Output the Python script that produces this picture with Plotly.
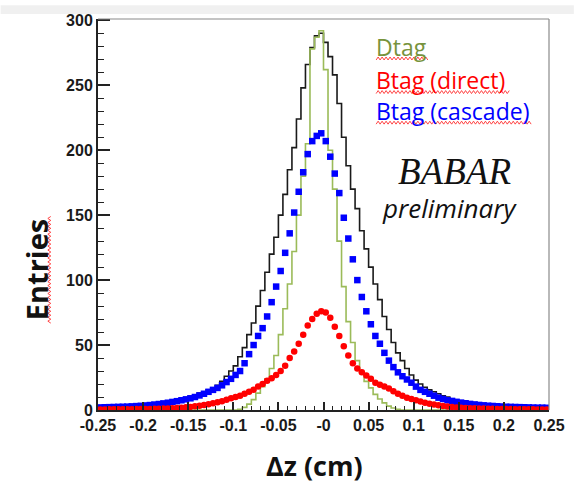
import numpy as np
import plotly.graph_objects as go

# ---------------- data ----------------
x_min, x_max, n_bins = -0.25, 0.25, 100

total_hist = [2.5, 2.6, 2.7, 2.8, 2.9, 3, 3.2, 3.4, 3.6, 3.8,
              4, 4.3, 4.6, 5, 5.5, 6, 6.5, 7.5, 8.5, 9.5,
              10.5, 11.5, 13, 14, 15.5, 17, 19, 22, 26, 30,
              34, 41, 48, 58, 67, 80, 92, 106, 120, 133,
              150, 166, 185, 202, 224, 248, 266, 279, 288, 290,
              283, 272, 258, 236, 210, 188, 170, 155, 138, 124,
              110, 97, 85, 72, 62, 52, 44, 38, 32, 27,
              23, 20, 17.5, 15.5, 14, 12.5, 11, 10, 8.5, 7.5,
              7, 6.5, 6, 5.5, 5, 4.8, 4.5, 4.2, 4, 3.7,
              3.4, 3.2, 3, 2.9, 2.7, 2.6, 2.5, 2.4, 2.3, 2.2]

dtag = [0] * 31 + [0.5, 2, 4.5, 8, 13, 18, 24, 32, 42,
                   58, 78, 97, 122, 150, 180, 205, 278, 287, 292,
                   262, 200, 170, 130, 95, 68, 52, 38, 29, 22,
                   17, 12, 8.5, 5.5, 3, 1.5, 0.5] + [0] * 33

btag_direct = [0.4, 0.45, 0.5, 0.5, 0.55, 0.6, 0.6, 0.65, 0.7, 0.75,
               0.8, 0.85, 0.9, 1, 1.1, 1.25, 1.4, 1.6, 1.8, 2.1,
               2.4, 2.8, 3.3, 3.9, 4.5, 5.2, 6, 6.8, 7.8, 9,
               10, 11, 12.5, 14, 15.5, 18, 20, 22.5, 24.5, 27,
               30, 34, 40, 45, 51, 58, 65, 70, 74, 76,
               75, 71, 64, 57, 49, 42, 36, 32, 29, 26.5,
               24, 21, 19.5, 18, 16.5, 14.5, 12.5, 11, 9.5, 8.5,
               7.5, 6.5, 5.6, 4.8, 4.2, 3.6, 3.1, 2.7, 2.3, 2,
               1.8, 1.6, 1.4, 1.3, 1.2, 1.1, 1, 0.9, 0.85, 0.8,
               0.75, 0.7, 0.65, 0.6, 0.55, 0.5, 0.5, 0.45, 0.45, 0.4]

btag_cascade = [2, 2.1, 2.2, 2.3, 2.4, 2.5, 2.6, 2.8, 3, 3.2,
                3.5, 3.8, 4.2, 4.6, 5.1, 5.6, 6.2, 6.8, 7.5, 8.2,
                9, 10, 11.2, 12.5, 14, 15.5, 17, 19, 21.5, 24,
                27, 30, 36, 43, 50, 57, 63, 72, 83, 95,
                107, 121, 136, 152, 168, 183, 197, 207, 211, 213,
                207, 195, 182, 167, 148, 132, 116, 100, 87, 76,
                66, 57, 51, 44, 38, 33, 29, 26, 23.5, 21,
                18, 15.5, 14, 12.5, 11, 9.5, 8.5, 7.5, 7, 6.3,
                5.7, 5.2, 4.7, 4.3, 3.9, 3.6, 3.3, 3.1, 2.9, 2.7,
                2.5, 2.4, 2.3, 2.2, 2.1, 2, 1.9, 1.8, 1.8, 1.7]

x_tick_vals = [-0.25, -0.2, -0.15, -0.1, -0.05, 0, 0.05, 0.1, 0.15, 0.2, 0.25]
x_tick_text = ["-0.25", "-0.2", "-0.15", "-0.1", "-0.05", "-0", "0.05", "0.1", "0.15", "0.2", "0.25"]
y_tick_vals = [0, 50, 100, 150, 200, 250, 300]
y_tick_text = ["0", "50", "100", "150", "200", "250", "300"]

legend_labels = ["Dtag", "Btag (direct)", "Btag (cascade)"]

# ---------------- geometry ----------------
W, H = 577, 488
L, R, T, B = 98, 552, 14, 410


def px(x):
    return (x - L) / (R - L)


def py(y):
    return (B - y) / (B - T)


edges = np.linspace(x_min, x_max, n_bins + 1)
centers = 0.5 * (edges[:-1] + edges[1:])


def step_xy(vals):
    v = list(vals)
    return list(edges), v + [v[-1]]


fig = go.Figure()

sx, sy = step_xy(total_hist)
fig.add_trace(go.Scatter(x=sx, y=sy, mode="lines", line=dict(color="#1a1a1a", width=1.6, shape="hv"),
                         showlegend=False, hoverinfo="skip"))
gx, gy = step_xy(dtag)
fig.add_trace(go.Scatter(x=gx, y=gy, mode="lines", line=dict(color="#9BBB59", width=1.6, shape="hv"),
                         showlegend=False, hoverinfo="skip"))
fig.add_trace(go.Scatter(x=centers, y=btag_cascade, mode="markers",
                         marker=dict(symbol="square", size=6.5, color="#0000FF", line=dict(width=0)),
                         showlegend=False))
fig.add_trace(go.Scatter(x=centers, y=btag_direct, mode="markers",
                         marker=dict(symbol="circle", size=6.5, color="#FF0000", line=dict(width=0)),
                         showlegend=False))

tickfont = dict(family="Liberation Sans", size=16, color="#1a1a1a", weight="bold")

fig.update_xaxes(range=[x_min, x_max], showgrid=False, zeroline=False,
                 showline=True, linecolor="#222222", linewidth=2,
                 ticks="inside", ticklen=8, tickwidth=1.5, tickcolor="#222222",
                 tickmode="array", tickvals=x_tick_vals, ticktext=x_tick_text,
                 tickfont=tickfont,
                 minor=dict(tickmode="array", tickvals=list(np.round(np.arange(-0.25, 0.2501, 0.01), 3)),
                            ticks="inside", ticklen=4, tickwidth=1.2, tickcolor="#222222", showgrid=False))
fig.update_yaxes(range=[0, 301], showgrid=False, zeroline=False,
                 showline=True, linecolor="#222222", linewidth=2,
                 ticks="inside", ticklen=12, tickwidth=1.5, tickcolor="#222222",
                 tickmode="array", tickvals=y_tick_vals, ticktext=y_tick_text,
                 tickfont=tickfont,
                 minor=dict(tickmode="array", tickvals=list(range(0, 301, 10)),
                            ticks="inside", ticklen=6, tickwidth=1.2, tickcolor="#222222", showgrid=False))

shapes = [
    dict(type="rect", xref="paper", yref="paper", x0=px(0), x1=px(W), y0=py(0), y1=py(9),
         fillcolor="#F0F0F0", line=dict(width=0), layer="below"),
    dict(type="line", xref="paper", yref="paper", x0=0, x1=1, y0=1, y1=1,
         line=dict(color="#8a8a8a", width=1.2)),
    dict(type="line", xref="paper", yref="paper", x0=1, x1=1, y0=0, y1=1,
         line=dict(color="#8a8a8a", width=1.2)),
]


def wavy_h(x0, x1, y, amp=1.5, step=2.0):
    pts = []
    k = 0
    xx = x0
    while xx <= x1:
        yy = y + (amp if k % 2 == 0 else -amp)
        pts.append((px(xx), py(yy)))
        xx += step
        k += 1
    return "M " + " L ".join(f"{a:.5f},{b:.5f}" for a, b in pts)


def wavy_v(x, y0, y1, amp=1.5, step=2.0):
    pts = []
    k = 0
    yy = y0
    while yy <= y1:
        xx = x + (amp if k % 2 == 0 else -amp)
        pts.append((px(xx), py(yy)))
        yy += step
        k += 1
    return "M " + " L ".join(f"{a:.5f},{b:.5f}" for a, b in pts)


for (x0, x1, y) in [(378, 430, 54), (378, 512, 88), (378, 535, 119)]:
    shapes.append(dict(type="path", xref="paper", yref="paper", path=wavy_h(x0, x1, y),
                       line=dict(color="#FF3030", width=0.9)))
shapes.append(dict(type="path", xref="paper", yref="paper", path=wavy_v(49, 214, 322),
                   line=dict(color="#FF3030", width=0.9)))

annotations = [
    dict(text=legend_labels[0], x=px(376), y=py(42), xanchor="left", yanchor="middle",
         font=dict(family="Open Sans", size=23, color="#77933C")),
    dict(text=legend_labels[1], x=px(376), y=py(76), xanchor="left", yanchor="middle",
         font=dict(family="Open Sans", size=23, color="#FF0000")),
    dict(text=legend_labels[2], x=px(376), y=py(107), xanchor="left", yanchor="middle",
         font=dict(family="Open Sans", size=23, color="#0000FF")),
    dict(text="BABAR", x=px(457), y=py(168), xanchor="center", yanchor="middle",
         font=dict(family="Liberation Serif", size=37, color="#111111", style="italic")),
    dict(text="preliminary", x=px(452), y=py(205), xanchor="center", yanchor="middle",
         font=dict(family="Open Sans", size=26, color="#111111", style="italic")),
    dict(text="Entries", x=px(36), y=py(268), xanchor="center", yanchor="middle", textangle=-90,
         font=dict(family="Open Sans", size=29, color="#111111", weight="bold")),
    dict(text="Δz (cm)", x=px(316), y=py(466), xanchor="center", yanchor="middle",
         font=dict(family="Open Sans", size=27, color="#111111", weight="bold")),
]
for a in annotations:
    a.update(xref="paper", yref="paper", showarrow=False)

fig.update_layout(width=W, height=H, margin=dict(l=L, r=W - R, t=T, b=H - B),
                  paper_bgcolor="white", plot_bgcolor="white",
                  shapes=shapes, annotations=annotations, showlegend=False)

fig.write_html("out.html")
